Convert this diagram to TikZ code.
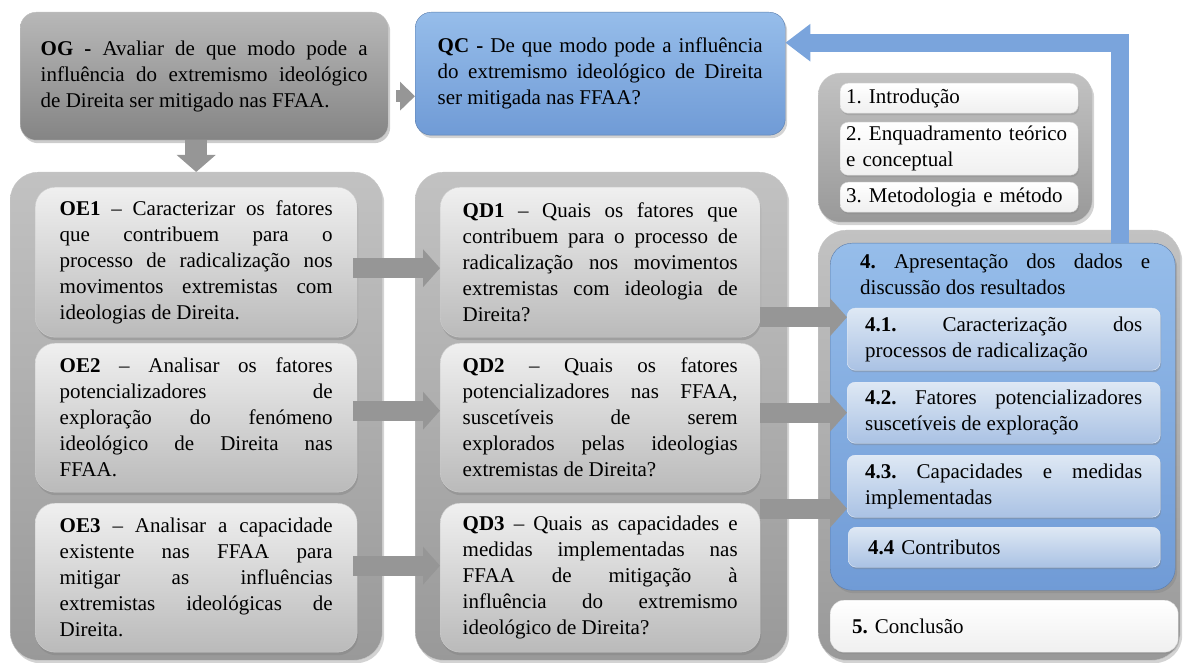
\documentclass[tikz,border=0pt]{standalone}
\usepackage{fontspec}
\setmainfont{Liberation Serif}
\usetikzlibrary{arrows.meta}
\usetikzlibrary{shadows}

\definecolor{qcblue}{RGB}{150,189,234}
\definecolor{qcdark}{RGB}{112,155,214}
\definecolor{subtop}{RGB}{222,232,244}
\definecolor{subbot}{RGB}{170,194,228}
\definecolor{arrowgray}{RGB}{150,150,150}
\definecolor{arrowblue}{RGB}{122,164,220}

\tolerance=9999
\hbadness=10000
\hyphenpenalty=10000
\frenchspacing

\begin{document}
\begin{tikzpicture}[x=1pt,y=-1pt,
	every node/.style={font=\fontsize{21}{26}\selectfont, inner sep=0pt, anchor=north west},
	frame node/.style={rounded corners=28pt, top color=black!24, bottom color=black!40, draw=black!22, drop shadow={shadow xshift=2pt, shadow yshift=-3pt, opacity=0.35}},
	aim node/.style={rounded corners=16pt, top color=black!28, bottom color=black!48, draw=black!25, drop shadow={shadow xshift=2pt, shadow yshift=-3pt, opacity=0.4}},
	text node/.style={rounded corners=20pt, top color=black!6, bottom color=black!27, draw=white!80!black, drop shadow={shadow xshift=1pt, shadow yshift=-3pt, opacity=0.4}, align=justify},
	blue node/.style={rounded corners=22pt, top color=qcblue, bottom color=qcdark, draw=qcdark!80!black, drop shadow={shadow xshift=2pt, shadow yshift=-3pt, opacity=0.35}},
	sub node/.style={rounded corners=8pt, top color=subtop, bottom color=subbot, draw=white!70!subbot, drop shadow={shadow xshift=1pt, shadow yshift=-2pt, opacity=0.35}},
	item node/.style={rounded corners=8pt, top color=white, bottom color=black!6, draw=black!15, drop shadow={shadow xshift=1pt, shadow yshift=-2pt, opacity=0.3}, align=left},
	gray arrow/.style={line width=20pt, draw=arrowgray, -{Triangle[length=17pt,width=37pt]}},
	blue arrow/.style={line width=18pt, draw=arrowblue, -{Triangle[length=25pt,width=36pt]}}]
	
	\useasboundingbox (0,0) rectangle (1187,663);
	
	% containers
	\node[frame node, minimum width=372pt, minimum height=488pt] (Aims) at (10,172) {};
	\node[frame node, minimum width=372pt, minimum height=488pt] (Questions) at (415,172) {};
	\node[frame node, rounded corners=22pt, minimum width=274pt, minimum height=149pt] (Intro) at (818,73) {};
	\node[frame node, minimum width=362pt, minimum height=430pt] (Results) at (818,230) {};
	
	% general aim and central question
	\node[aim node, minimum width=368pt, minimum height=128pt, text width=327pt, align=justify] (OG) at (20,12)
	{\textbf{OG -} Avaliar de que modo pode a\linebreak influência do extremismo ideológico\linebreak de Direita ser mitigado nas FFAA.};
	\node[blue node, rounded corners=16pt, minimum width=370pt, minimum height=123pt, text width=325pt, align=justify] (QC) at (415,12)
	{\textbf{QC -} De que modo pode a influência\linebreak do extremismo ideológico de Direita\linebreak ser mitigada nas FFAA?};
	
	% specific aims
	\node[text node, minimum width=322pt, minimum height=150pt, text width=273pt] (OE1) at (35,187)
	{\textbf{OE1} – Caracterizar os fatores\linebreak que contribuem para o\linebreak processo de radicalização nos\linebreak movimentos extremistas com\linebreak ideologias de Direita.};
	\node[text node, minimum width=322pt, minimum height=149pt, text width=273pt] (OE2) at (35,343)
	{\textbf{OE2} – Analisar os fatores\linebreak potencializadores de\linebreak exploração do fenómeno\linebreak ideológico de Direita nas\linebreak FFAA.};
	\node[text node, minimum width=322pt, minimum height=149pt, text width=273pt] (OE3) at (35,503)
	{\textbf{OE3} – Analisar a capacidade\linebreak existente nas FFAA para\linebreak mitigar as influências\linebreak extremistas ideológicas de\linebreak Direita.};
	
	% derived questions
	\node[text node, minimum width=320pt, minimum height=150pt, text width=275pt] (QD1) at (440,187)
	{\textbf{QD1} – Quais os fatores que\linebreak contribuem para o processo de\linebreak radicalização nos movimentos\linebreak extremistas com ideologia de\linebreak Direita?};
	\node[text node, minimum width=320pt, minimum height=149pt, text width=275pt] (QD2) at (440,343)
	{\textbf{QD2} – Quais os fatores\linebreak potencializadores nas FFAA,\linebreak suscetíveis de serem\linebreak explorados pelas ideologias\linebreak extremistas de Direita?};
	\node[text node, minimum width=320pt, minimum height=149pt, text width=275pt] (QD3) at (440,503)
	{\textbf{QD3} – Quais as capacidades e\linebreak medidas implementadas nas\linebreak FFAA de mitigação à\linebreak influência do extremismo\linebreak ideológico de Direita?};
	
	% chapters
	\node[item node, minimum width=238pt, minimum height=30pt, text width=226pt] (Ch1) at (840,83) {1. Introdução};
	\node[item node, minimum width=238pt, minimum height=53pt, text width=226pt] (Ch2) at (840,122) {2. Enquadramento teórico\\e conceptual};
	\node[item node, minimum width=238pt, minimum height=30pt, text width=226pt] (Ch3) at (840,182) {3. Metodologia e método};
	
	\node[blue node, minimum width=345pt, minimum height=347pt] (Ch4) at (830,243) {};
	\node[text width=290pt, align=justify] (Ch4title) at (860,254)
	{\textbf{4.} Apresentação dos dados e\linebreak discussão dos resultados};
	\node[sub node, minimum width=313pt, minimum height=62pt, text width=277pt, align=justify] (Sec1) at (847,308)
	{\textbf{4.1.} Caracterização dos\linebreak processos de radicalização};
	\node[sub node, minimum width=313pt, minimum height=61pt, text width=277pt, align=justify] (Sec2) at (847,382)
	{\textbf{4.2.} Fatores potencializadores\linebreak suscetíveis de exploração};
	\node[sub node, minimum width=313pt, minimum height=62pt, text width=277pt, align=justify] (Sec3) at (847,455)
	{\textbf{4.3.} Capacidades e medidas\linebreak implementadas};
	\node[sub node, minimum width=312pt, minimum height=40pt, text width=272pt, align=left] (Sec4) at (848,527)
	{\textbf{4.4} Contributos};
	
	\node[item node, rounded corners=14pt, minimum width=348pt, minimum height=52pt, text width=304pt] (Ch5) at (830,600) {\textbf{5.} Conclusão};
	
	% arrows
	\draw[gray arrow, line width=12pt, -{Triangle[length=15pt,width=28pt]}] ([xshift=8pt,yshift=-20pt]OG.east) -- ([yshift=-20pt]OG.east -| QC.west);
	\draw[gray arrow, line width=22pt, -{Triangle[length=17pt,width=38pt]}] ([xshift=-8pt]OG.south) -- ([xshift=-8pt]OG.south |- Aims.north);
	\draw[gray arrow] ([xshift=-4pt,yshift=-6pt]OE1.east) -- ([yshift=-6pt]OE1.east -| QD1.west);
	\draw[gray arrow] ([xshift=-4pt,yshift=7pt]OE2.east) -- ([yshift=7pt]OE2.east -| QD2.west);
	\draw[gray arrow] ([xshift=-4pt,yshift=12pt]OE3.east) -- ([yshift=12pt]OE3.east -| QD3.west);
	\draw[gray arrow] ([yshift=-55pt]QD1.east) -- ([yshift=-55pt]QD1.east -| Sec1.west);
	\draw[gray arrow] ([yshift=5pt]QD2.east) -- ([yshift=5pt]QD2.east -| Sec2.west);
	\draw[gray arrow] ([yshift=69pt]QD3.east) -- ([yshift=69pt]QD3.east -| Sec3.west);
	\draw[blue arrow] ([xshift=117pt]Ch4.north) |- ([yshift=31pt]QC.east);
\end{tikzpicture}
\end{document}
